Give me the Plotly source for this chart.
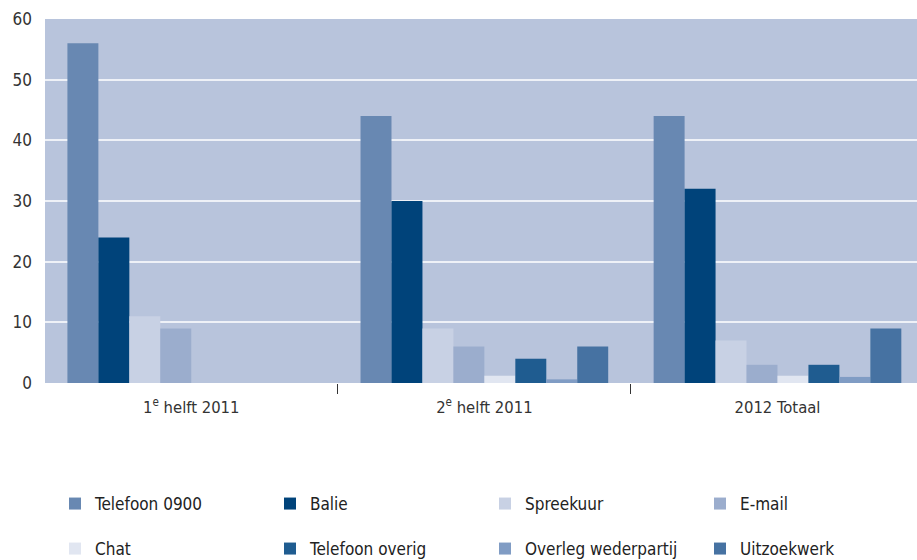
import plotly.graph_objects as go

# Periods on the x axis
categories = ["1<sup>e</sup> helft 2011", "2<sup>e</sup> helft 2011", "2012 Totaal"]

# Contact channels (percentages per period)
telefoon_0900 = [56, 44, 44]
balie = [24, 30, 32]
spreekuur = [11, 9, 7]
email = [9, 6, 3]
chat = [0, 1.2, 1.2]
telefoon_overig = [0, 4, 3]
overleg_wederpartij = [0, 0.6, 1.0]
uitzoekwerk = [0, 6, 9]

y_ticks = [0, 10, 20, 30, 40, 50, 60]

series = [
    ("Telefoon 0900", telefoon_0900, "#6888b2", "legend"),
    ("Balie", balie, "#00437a", "legend"),
    ("Spreekuur", spreekuur, "#c8d1e4", "legend"),
    ("E-mail", email, "#9badcd", "legend"),
    ("Chat", chat, "#e1e6f1", "legend2"),
    ("Telefoon overig", telefoon_overig, "#1f5c90", "legend2"),
    ("Overleg wederpartij", overleg_wederpartij, "#809cc4", "legend2"),
    ("Uitzoekwerk", uitzoekwerk, "#4672a2", "legend2"),
]

FONT = "DejaVu Sans Condensed, DejaVu Sans, sans-serif"

fig = go.Figure()
for name, vals, color, leg in series:
    fig.add_trace(go.Bar(
        x=categories, y=vals, name=name, marker=dict(color=color, line=dict(width=0)),
        legend=leg,
    ))

W, H = 917, 560
ml, mr, mt, mb = 45, 0, 19, 177

legend_common = dict(
    orientation="h", xanchor="left", yanchor="middle",
    xref="container", yref="container",
    entrywidth=170, entrywidthmode="pixels",
    font=dict(family=FONT, size=17, color="#222222"),
    bgcolor="rgba(0,0,0,0)", itemwidth=30, traceorder="normal",
)

fig.update_layout(
    width=W, height=H,
    margin=dict(l=ml, r=mr, t=mt, b=mb, autoexpand=False),
    paper_bgcolor="white",
    plot_bgcolor="#b8c4dc",
    barmode="group",
    bargap=0.155,
    bargroupgap=0,
    font=dict(family=FONT, size=17, color="#333333"),
    showlegend=True,
    legend=dict(x=55 / W, y=1 - 504 / H, **legend_common),
    legend2=dict(x=55 / W, y=1 - 549 / H, **legend_common),
    xaxis=dict(
        range=[-0.499, 2.476],
        tickson="boundaries",
        ticks="outside", ticklen=10, tickwidth=1, tickcolor="#333333",
        showgrid=False, showline=False, zeroline=False,
        ticklabelstandoff=12,
        tickfont=dict(family=FONT, size=16.5, color="#333333"),
    ),
    yaxis=dict(
        range=[0, 60],
        tickvals=y_ticks,
        showgrid=True, gridcolor="#eef1f7", gridwidth=1.5,
        zeroline=False, showline=False, ticks="",
        ticklabelstandoff=12,
        tickfont=dict(family=FONT, size=17, color="#333333"),
    ),
)

fig.write_html("out.html")
